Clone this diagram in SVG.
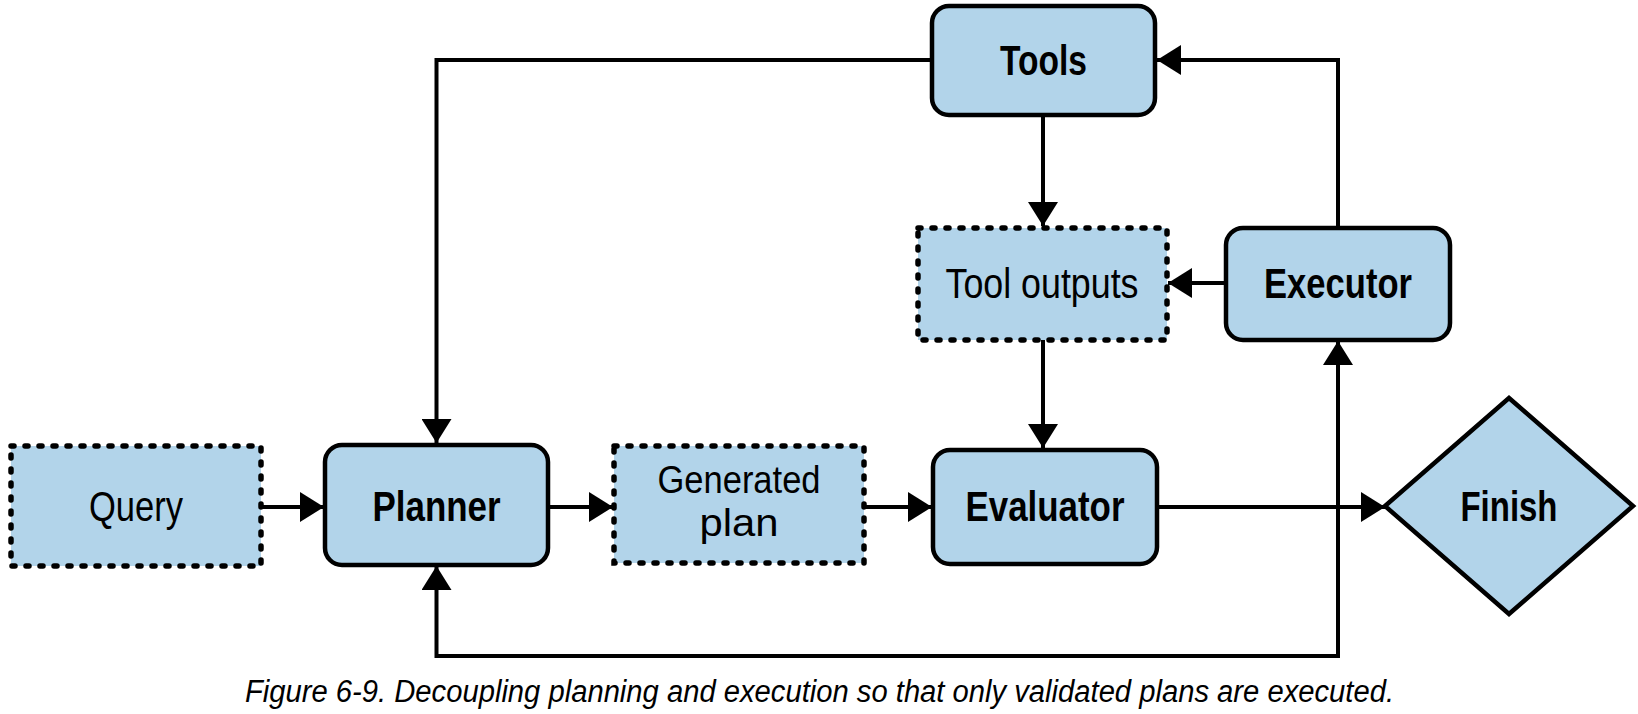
<svg xmlns="http://www.w3.org/2000/svg" width="1638" height="714" viewBox="0 0 1638 714">
<style>
.solid{fill:#b2d4ea;stroke:#000;stroke-width:4.5}
.dot{fill:#b2d4ea;stroke:#000;stroke-width:5.5;stroke-dasharray:3 11;stroke-linecap:round}
.lbl{font-family:"Liberation Sans","Noto Sans",sans-serif;font-size:42px;fill:#000;text-anchor:middle}
.sm{font-size:38px}
.b{font-weight:bold}
.con{fill:none;stroke:#000;stroke-width:4}
.cap{font-family:"Liberation Sans","Noto Sans",sans-serif;font-style:italic;font-size:31px;fill:#000}
</style>
<defs>
<marker id="ah" viewBox="0 0 24 30" refX="24" refY="15" markerWidth="24" markerHeight="30" markerUnits="userSpaceOnUse" orient="auto">
<path d="M0,0 L24,15 L0,30 Z" fill="#000"/>
</marker>
</defs>
<rect width="1638" height="714" fill="#fff"/>
<g id="connectors">
<path class="con" d="M932,60 H436.5 V443" marker-end="url(#ah)"/>
<path class="con" d="M1338,228 V60 H1157" marker-end="url(#ah)"/>
<path class="con" d="M1043,115 V226" marker-end="url(#ah)"/>
<path class="con" d="M1225,283 H1168" marker-end="url(#ah)"/>
<path class="con" d="M1043,340 V448" marker-end="url(#ah)"/>
<path class="con" d="M261,507 H324" marker-end="url(#ah)"/>
<path class="con" d="M548,507 H613" marker-end="url(#ah)"/>
<path class="con" d="M864,507 H932" marker-end="url(#ah)"/>
<path class="con" d="M1157,507 H1385" marker-end="url(#ah)"/>
<path class="con" d="M1338,658 V341" marker-end="url(#ah)"/>
<path class="con" d="M1340,656 H436.5 V566" marker-end="url(#ah)"/>
</g>
<g id="query">
<rect class="dot" x="11" y="446" width="250" height="120"/>
<text class="lbl" x="136" y="521" textLength="94" lengthAdjust="spacingAndGlyphs">Query</text>
</g>
<g id="planner">
<rect class="solid" x="325" y="445" width="223" height="120" rx="17"/>
<text class="lbl b" x="436.5" y="521" textLength="128" lengthAdjust="spacingAndGlyphs">Planner</text>
</g>
<g id="generated-plan">
<rect class="dot" x="614" y="446" width="250" height="117"/>
<text class="lbl sm" x="739" y="493" textLength="163" lengthAdjust="spacingAndGlyphs">Generated</text>
<text class="lbl sm" x="739" y="536" textLength="79" lengthAdjust="spacingAndGlyphs">plan</text>
</g>
<g id="evaluator">
<rect class="solid" x="933" y="450" width="224" height="114" rx="17"/>
<text class="lbl b" x="1045" y="521" textLength="159" lengthAdjust="spacingAndGlyphs">Evaluator</text>
</g>
<g id="finish">
<polygon class="solid" points="1509,398 1633,506 1509,614 1385,506"/>
<text class="lbl b" x="1509" y="521" textLength="97" lengthAdjust="spacingAndGlyphs">Finish</text>
</g>
<g id="tools">
<rect class="solid" x="932" y="6" width="223" height="109" rx="17"/>
<text class="lbl b" x="1043.5" y="75" textLength="87" lengthAdjust="spacingAndGlyphs">Tools</text>
</g>
<g id="tool-outputs">
<rect class="dot" x="918" y="228" width="249" height="112"/>
<text class="lbl" x="1042" y="298" textLength="193" lengthAdjust="spacingAndGlyphs">Tool outputs</text>
</g>
<g id="executor">
<rect class="solid" x="1226" y="228" width="224" height="112" rx="17"/>
<text class="lbl b" x="1338" y="298" textLength="148" lengthAdjust="spacingAndGlyphs">Executor</text>
</g>
<text class="cap" x="245" y="702" textLength="1149" lengthAdjust="spacingAndGlyphs">Figure 6-9. Decoupling planning and execution so that only validated plans are executed.</text>
</svg>
